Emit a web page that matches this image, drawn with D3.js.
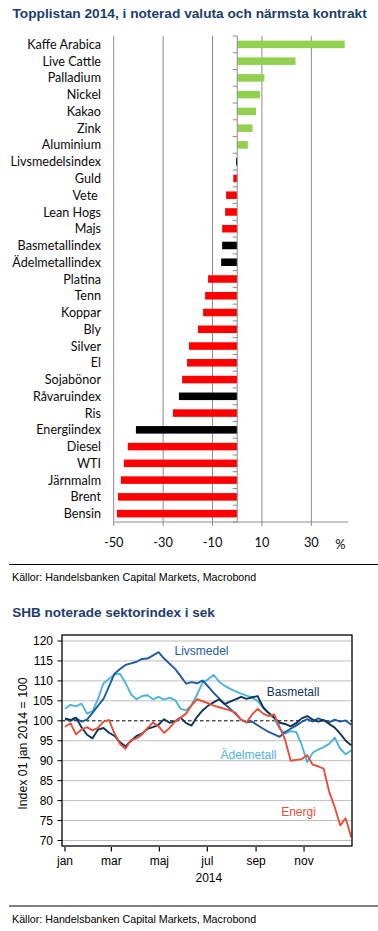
<!DOCTYPE html>
<html>
<head>
<meta charset="utf-8">
<script src="https://cdn.jsdelivr.net/npm/d3@7"></script>
<style>
  body { margin: 0; background: #fff; }
</style>
</head>
<body>
<svg id="chart" width="378" height="931"></svg>
<script>
// top chart: topplistan 2014
const barNames = ["Kaffe Arabica", "Live Cattle", "Palladium", "Nickel", "Kakao", "Zink", "Aluminium",
  "Livsmedelsindex", "Guld", "Vete ", "Lean Hogs", "Majs", "Basmetallindex", "Ädelmetallindex",
  "Platina", "Tenn", "Koppar", "Bly", "Silver", "El", "Sojabönor", "Råvaruindex", "Ris",
  "Energiindex", "Diesel", "WTI", "Järnmalm", "Brent", "Bensin"]
const barValues = [43.5, 23.6, 11.0, 9.2, 7.6, 6.2, 4.3,
  -0.5, -1.6, -4.5, -4.9, -6.1, -6.1, -6.5,
  -11.8, -13.0, -13.8, -15.9, -19.5, -20.3, -22.3, -23.6, -26.0,
  -41.0, -44.3, -45.9, -47.1, -48.3, -48.7]
const barTicks = [-50, -30, -10, 10, 30]

// bottom chart: SHB sektorindex, weekly readings from 1 jan 2014
const seriesStart = "2014-01-01"
const livsmedel = [100.5, 100.0, 100.6, 99.8, 100.3, 102.0, 103.8, 105.5, 108.6, 111.8,
  113.0, 114.0, 114.4, 114.8, 115.5, 115.6, 116.4, 117.2, 115.6, 114.3,
  113.0, 111.2, 109.3, 109.7, 109.4, 110.1, 108.6, 107.0, 105.6, 104.2,
  103.0, 101.7, 100.3, 99.6, 99.8, 98.9, 98.0, 97.2, 96.6, 96.0,
  97.2, 98.0, 98.8, 99.7, 100.4, 99.8, 100.6, 100.1, 99.6, 100.3,
  99.8, 100.1, 99.0]
const basmetall = [100.6, 100.2, 100.8, 98.4, 96.5, 95.6, 97.8, 98.2, 97.0, 96.2,
  94.6, 93.6, 95.0, 96.2, 96.8, 98.0, 98.4, 99.0, 100.4, 99.5,
  99.9, 100.8, 99.4, 98.8, 101.0, 102.6, 103.8, 104.6, 105.4, 104.2,
  104.8, 105.4, 106.0, 105.5, 105.9, 106.2, 103.4, 102.0, 100.8, 99.5,
  99.2, 98.6, 99.4, 100.6, 101.2, 100.3, 99.8, 100.2, 99.2, 98.3,
  96.8, 95.0, 93.9]
const adelmetall = [103.0, 104.0, 103.6, 104.3, 101.8, 102.4, 105.5, 109.4, 110.5, 111.6,
  111.8, 109.5, 106.6, 105.4, 106.2, 106.4, 105.4, 106.0, 105.3, 105.8,
  105.2, 103.0, 102.6, 104.0, 106.6, 109.6, 110.4, 111.5, 109.8, 108.8,
  108.0, 107.4, 106.8, 106.3, 105.8, 105.0, 103.2, 101.8, 100.6, 98.0,
  96.8, 97.4, 97.2, 94.0, 89.6, 92.0, 92.8, 93.4, 94.2, 95.8,
  93.0, 91.6, 92.6]
const energi = [98.5, 99.4, 96.6, 97.8, 98.4, 97.6, 98.2, 99.8, 100.2, 96.8,
  94.2, 93.0, 95.2, 95.6, 96.6, 98.2, 99.6, 98.6, 97.0, 98.2,
  99.8, 100.8, 101.8, 103.9, 105.4, 104.9, 104.4, 103.8, 103.4, 103.0,
  102.6, 102.0, 100.2, 99.6, 101.6, 103.0, 101.8, 101.2, 101.6, 98.4,
  95.2, 90.0, 90.2, 90.4, 91.4, 89.0, 88.6, 88.0, 82.2, 78.4,
  73.8, 75.6, 70.8]
const seriesNames = ["Livsmedel", "Basmetall", "Ädelmetall", "Energi"]
const monthLabels = ["jan", "mar", "maj", "jul", "sep", "nov"]
const yTicks = [70, 75, 80, 85, 90, 95, 100, 105, 110, 115, 120]

const svg = d3.select("#chart")
svg.append("rect").attr("width", 378).attr("height", 931).attr("fill", "#fff")

const titleColor = "#1c3d6b"
const arial = "'Liberation Sans', Arial, sans-serif"
const calibri = "Lato, 'Open Sans', sans-serif"

// ---------- bar chart ----------
svg.append("text")
  .attr("x", 12.5).attr("y", 17.5)
  .attr("font-family", arial).attr("font-weight", "bold").attr("font-size", 13.7)
  .attr("fill", titleColor)
  .text("Topplistan 2014, i noterad valuta och närmsta kontrakt")

const xBar = d3.scaleLinear().domain([-50, 45]).range([113.7, 348.4])
const yBar = d3.scaleBand().domain(barNames).range([36, 522])
  .paddingInner(0.55).paddingOuter(0.275)
const step = yBar.step()
const x0 = xBar(0)
const gridGrey = "#8c8c8c"

const gBar = svg.append("g")

gBar.selectAll(".grid")
  .data(barTicks)
  .join("line")
  .attr("class", "grid")
  .attr("x1", d => xBar(d)).attr("x2", d => xBar(d))
  .attr("y1", 36).attr("y2", 526)
  .attr("stroke", gridGrey).attr("stroke-width", 1)

// bottom axis line
gBar.append("line")
  .attr("x1", xBar(-50)).attr("x2", xBar(45))
  .attr("y1", 522).attr("y2", 522)
  .attr("stroke", gridGrey)

const barColor = (name, v) => {
  if (name.trim().endsWith("index")) return "#000000"
  return v > 0 ? "#92d050" : "#ff0000"
}

gBar.selectAll(".bar")
  .data(barNames.map((n, i) => ({ name: n, value: barValues[i] })))
  .join("rect")
  .attr("class", "bar")
  .attr("x", d => xBar(Math.min(0, d.value)))
  .attr("width", d => Math.abs(xBar(d.value) - x0))
  .attr("y", d => yBar(d.name))
  .attr("height", yBar.bandwidth())
  .attr("fill", d => barColor(d.name, d.value))

// zero axis with small ticks between categories
gBar.append("line")
  .attr("x1", x0).attr("x2", x0)
  .attr("y1", 36).attr("y2", 522)
  .attr("stroke", gridGrey)
gBar.selectAll(".ztick")
  .data(d3.range(barNames.length + 1))
  .join("line")
  .attr("class", "ztick")
  .attr("x1", x0 - 4.5).attr("x2", x0)
  .attr("y1", i => 36 + i * step).attr("y2", i => 36 + i * step)
  .attr("stroke", gridGrey)

gBar.selectAll(".lbl")
  .data(barNames)
  .join("text")
  .attr("class", "lbl")
  .attr("x", 101)
  .attr("y", d => yBar(d) + yBar.bandwidth() / 2)
  .attr("dy", "0.36em")
  .attr("text-anchor", "end")
  .attr("font-family", calibri).attr("font-size", 12.6)
  .attr("fill", "#0a0a0a")
  .style("white-space", "pre")
  .text(d => d)

gBar.selectAll(".xt")
  .data(barTicks)
  .join("text")
  .attr("class", "xt")
  .attr("x", d => xBar(d))
  .attr("y", 547)
  .attr("text-anchor", "middle")
  .attr("font-family", calibri).attr("font-size", 12.8)
  .attr("fill", "#0a0a0a")
  .text(d => d)

gBar.append("text")
  .attr("x", 340.5).attr("y", 548.5)
  .attr("text-anchor", "middle")
  .attr("font-family", calibri).attr("font-size", 12.8)
  .attr("fill", "#0a0a0a")
  .text("%")

// separators + sources
const sourceLine = (y) => {
  svg.append("line")
    .attr("x1", 9).attr("x2", 378)
    .attr("y1", y).attr("y2", y)
    .attr("stroke", "#000").attr("stroke-width", 1)
  svg.append("text")
    .attr("x", 12).attr("y", y + 16.5)
    .attr("font-family", arial).attr("font-size", 10.7)
    .attr("fill", "#000")
    .text("Källor: Handelsbanken Capital Markets, Macrobond")
}
sourceLine(564.5)

// ---------- line chart ----------
svg.append("text")
  .attr("x", 12.3).attr("y", 616.8)
  .attr("font-family", arial).attr("font-weight", "bold").attr("font-size", 13.5)
  .attr("fill", titleColor)
  .text("SHB noterade sektorindex i sek")

const box = { left: 62, right: 352, top: 635, bottom: 846 }
const t0 = new Date(seriesStart)
const xTime = d3.scaleUtc()
  .domain([t0, new Date("2015-01-01")])
  .range([65, 352])
const yLine = d3.scaleLinear().domain([70, 120]).range([840.5, 641])

const gLine = svg.append("g")

gLine.selectAll(".hgrid")
  .data(yTicks.filter(d => d !== 100))
  .join("line")
  .attr("class", "hgrid")
  .attr("x1", box.left).attr("x2", box.right)
  .attr("y1", d => yLine(d)).attr("y2", d => yLine(d))
  .attr("stroke", "#bdbdbd").attr("stroke-width", 1)

gLine.append("line")
  .attr("x1", box.left).attr("x2", box.right)
  .attr("y1", yLine(100)).attr("y2", yLine(100))
  .attr("stroke", "#000").attr("stroke-width", 1)
  .attr("stroke-dasharray", "3.5,2.5")

const seriesData = [livsmedel, basmetall, adelmetall, energi]
const seriesColors = ["#1f5c9e", "#0e3559", "#4cb3e0", "#e4513b"]
const line = d3.line()
  .x((d, i) => xTime(d3.utcDay.offset(t0, i * 7)))
  .y(d => yLine(d))

// draw order: light blue first, navy on top
const drawOrder = [2, 0, 1, 3]
drawOrder.forEach(k => {
  gLine.append("path")
    .datum(seriesData[k])
    .attr("d", line)
    .attr("fill", "none")
    .attr("stroke", seriesColors[k])
    .attr("stroke-width", 1.9)
    .attr("stroke-linejoin", "round")
})

// frame
gLine.append("rect")
  .attr("x", box.left).attr("y", box.top)
  .attr("width", box.right - box.left).attr("height", box.bottom - box.top)
  .attr("fill", "none").attr("stroke", "#000").attr("stroke-width", 1.3)

// y axis ticks and labels
gLine.selectAll(".ytick")
  .data(yTicks)
  .join("line")
  .attr("class", "ytick")
  .attr("x1", box.left - 4.5).attr("x2", box.left)
  .attr("y1", d => yLine(d)).attr("y2", d => yLine(d))
  .attr("stroke", "#000")
gLine.selectAll(".ylab")
  .data(yTicks)
  .join("text")
  .attr("class", "ylab")
  .attr("x", 53)
  .attr("y", d => yLine(d))
  .attr("dy", "0.36em")
  .attr("text-anchor", "end")
  .attr("font-family", arial).attr("font-size", 12)
  .attr("fill", "#000")
  .text(d => d)

gLine.append("text")
  .attr("transform", "translate(26.5,743.5) rotate(-90)")
  .attr("text-anchor", "middle")
  .attr("font-family", arial).attr("font-size", 12.3)
  .attr("fill", "#000")
  .text("Index 01 jan 2014 = 100")

// x axis month ticks
const monthDates = monthLabels.map((m, i) => d3.utcMonth.offset(t0, i * 2))
gLine.selectAll(".xtick")
  .data(monthDates)
  .join("line")
  .attr("class", "xtick")
  .attr("x1", d => xTime(d)).attr("x2", d => xTime(d))
  .attr("y1", box.bottom + 1).attr("y2", box.bottom + 5.5)
  .attr("stroke", "#000").attr("stroke-width", 1.2)
gLine.selectAll(".xlab")
  .data(monthDates)
  .join("text")
  .attr("class", "xlab")
  .attr("x", d => xTime(d))
  .attr("y", 864.5)
  .attr("text-anchor", "middle")
  .attr("font-family", arial).attr("font-size", 12)
  .attr("fill", "#000")
  .text((d, i) => monthLabels[i])
gLine.append("text")
  .attr("x", xTime(new Date("2014-07-01")) + 1.5)
  .attr("y", 881.5)
  .attr("text-anchor", "middle")
  .attr("font-family", arial).attr("font-size", 12)
  .attr("fill", "#000")
  .text("2014")

// series labels
const labelPos = [
  { x: 201.5, y: 654.5 },
  { x: 293, y: 696 },
  { x: 248.5, y: 759 },
  { x: 298.5, y: 815.5 }
]
seriesNames.forEach((n, k) => {
  gLine.append("text")
    .attr("x", labelPos[k].x).attr("y", labelPos[k].y)
    .attr("text-anchor", "middle")
    .attr("font-family", arial).attr("font-size", 12)
    .attr("fill", seriesColors[k])
    .text(n)
})

sourceLine(906)
</script>
</body>
</html>
